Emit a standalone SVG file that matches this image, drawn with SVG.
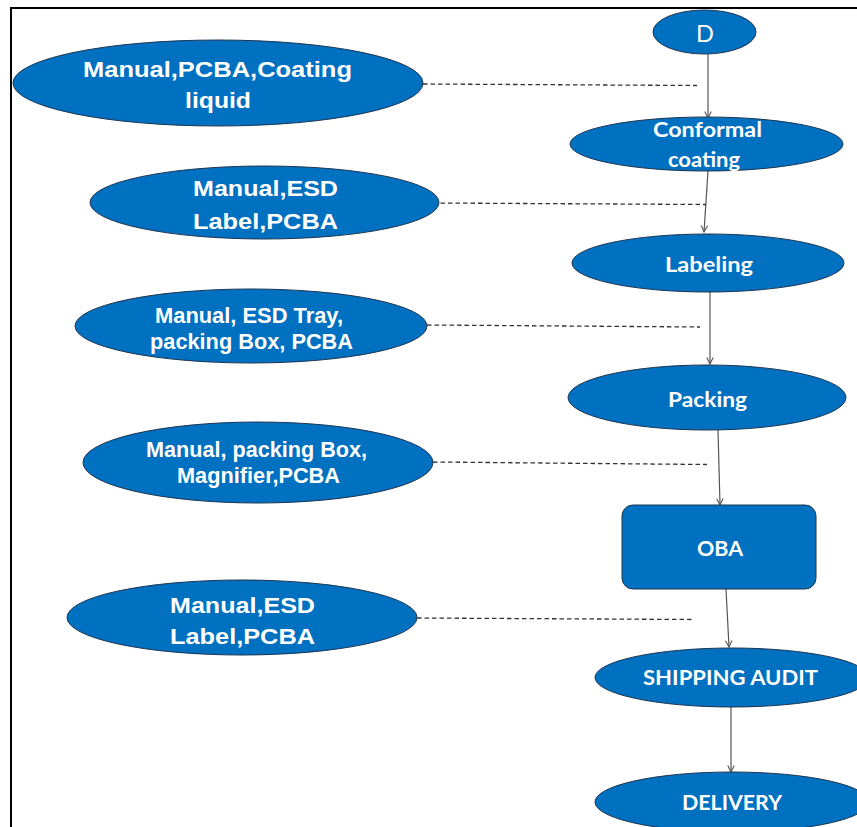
<svg xmlns="http://www.w3.org/2000/svg" width="857" height="827" viewBox="0 0 857 827">
<style>
.node{fill:#0070C0;stroke:#1f3550;stroke-width:1}
.lt{font-family:"Liberation Sans",Arial,sans-serif;font-weight:bold;fill:#fff;text-anchor:middle;font-size:22px}
.rt{font-family:Lato,"Open Sans",sans-serif;font-weight:bold;fill:#fff;text-anchor:middle;font-size:21px}
.flow{stroke:#555;stroke-width:1.2;fill:none;marker-end:url(#arr)}
.dash{stroke:#333;stroke-width:1.3;stroke-dasharray:4.5 3;fill:none}
</style>
<defs>
<marker id="arr" viewBox="0 0 10 10" refX="9" refY="5" markerWidth="8" markerHeight="8" markerUnits="userSpaceOnUse" orient="auto">
<path d="M1,1 L9,5 L1,9" fill="none" stroke="#555" stroke-width="1.4"/>
</marker>
</defs>
<rect width="857" height="827" fill="#fff"/>
<g id="frame"><path d="M11,827 V8 H857" fill="none" stroke="#000" stroke-width="2"/></g>

<g id="connectors">
<line class="flow" x1="708" y1="54" x2="708" y2="118"/>
<line class="flow" x1="708" y1="171" x2="704" y2="232"/>
<line class="flow" x1="710" y1="292" x2="710" y2="364"/>
<line class="flow" x1="718" y1="430" x2="720" y2="505"/>
<line class="flow" x1="726" y1="589" x2="729" y2="647"/>
<line class="flow" x1="731" y1="707" x2="731" y2="772"/>
<line class="dash" x1="423" y1="84" x2="697" y2="85.5"/>
<line class="dash" x1="433" y1="203" x2="706" y2="204.5"/>
<line class="dash" x1="427" y1="325" x2="700" y2="327"/>
<line class="dash" x1="433" y1="462" x2="707" y2="464.5"/>
<line class="dash" x1="417" y1="618" x2="692" y2="619.5"/>
</g>

<g id="n-d"><ellipse class="node" cx="704.5" cy="32" rx="51.5" ry="22"/>
<text x="705" y="42" font-family="Lato,'Open Sans',sans-serif" font-size="23.5" fill="#fff" text-anchor="middle">D</text></g>

<g id="n-conformal"><ellipse class="node" cx="706.5" cy="144" rx="136.5" ry="27"/>
<text class="rt" x="707.5" y="136.5" textLength="109" lengthAdjust="spacingAndGlyphs">Conformal</text>
<text class="rt" x="704" y="166.5" textLength="72" lengthAdjust="spacingAndGlyphs">coating</text></g>

<g id="n-labeling"><ellipse class="node" cx="708" cy="263" rx="136" ry="29"/>
<text class="rt" x="709" y="272" textLength="88" lengthAdjust="spacingAndGlyphs">Labeling</text></g>

<g id="n-packing"><ellipse class="node" cx="707" cy="397.5" rx="139" ry="32.5"/>
<text class="rt" x="707.5" y="406.5" textLength="79" lengthAdjust="spacingAndGlyphs">Packing</text></g>

<g id="n-oba"><rect class="node" x="622" y="505" width="194" height="84" rx="11"/>
<text class="rt" x="720" y="556" textLength="46" lengthAdjust="spacingAndGlyphs">OBA</text></g>

<g id="n-shipping"><ellipse class="node" cx="732" cy="677.5" rx="137" ry="29.5"/>
<text class="rt" x="730.5" y="685" textLength="175" lengthAdjust="spacingAndGlyphs">SHIPPING AUDIT</text></g>

<g id="n-delivery"><ellipse class="node" cx="732" cy="802" rx="137" ry="30"/>
<text class="rt" x="732" y="810" textLength="100" lengthAdjust="spacingAndGlyphs">DELIVERY</text></g>

<g id="r-1"><ellipse class="node" cx="218" cy="83" rx="205" ry="43"/>
<text class="lt" x="217.5" y="76.5" textLength="269" lengthAdjust="spacingAndGlyphs">Manual,PCBA,Coating</text>
<text class="lt" x="218" y="107.5" textLength="66" lengthAdjust="spacingAndGlyphs">liquid</text></g>

<g id="r-2"><ellipse class="node" cx="264.5" cy="202.5" rx="174.5" ry="36.5"/>
<text class="lt" x="265.5" y="196" textLength="145" lengthAdjust="spacingAndGlyphs">Manual,ESD</text>
<text class="lt" x="265.5" y="228.5" textLength="145" lengthAdjust="spacingAndGlyphs">Label,PCBA</text></g>

<g id="r-3"><ellipse class="node" cx="251" cy="326" rx="176" ry="37"/>
<text class="lt" x="249" y="322.5" textLength="188" lengthAdjust="spacingAndGlyphs">Manual, ESD Tray,</text>
<text class="lt" x="251.5" y="349" textLength="203" lengthAdjust="spacingAndGlyphs">packing Box, PCBA</text></g>

<g id="r-4"><ellipse class="node" cx="258" cy="462.5" rx="175" ry="40.5"/>
<text class="lt" x="256.5" y="457" textLength="221" lengthAdjust="spacingAndGlyphs">Manual, packing Box,</text>
<text class="lt" x="258.5" y="483" textLength="163" lengthAdjust="spacingAndGlyphs">Magnifier,PCBA</text></g>

<g id="r-5"><ellipse class="node" cx="242" cy="617.5" rx="175" ry="37.5"/>
<text class="lt" x="242.5" y="612.5" textLength="145" lengthAdjust="spacingAndGlyphs">Manual,ESD</text>
<text class="lt" x="242.5" y="643.5" textLength="145" lengthAdjust="spacingAndGlyphs">Label,PCBA</text></g>
</svg>
